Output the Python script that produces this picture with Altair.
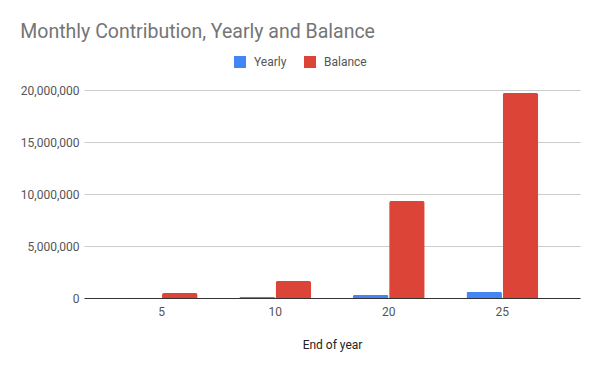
import altair as alt
import pandas as pd

years = ["5", "10", "20", "25"]
yearly = [20000, 130000, 290000, 590000]
balance = [480000, 1630000, 9330000, 19700000]
series = ["Yearly", "Balance"]

rows = []
for i, y in enumerate(years):
    rows.append({"year": y, "series": "Yearly", "value": yearly[i]})
    rows.append({"year": y, "series": "Balance", "value": balance[i]})
df = pd.DataFrame(rows)

font = "Roboto"

chart = alt.Chart(df).mark_bar(
    cornerRadiusTopLeft=2, cornerRadiusTopRight=2
).encode(
    x=alt.X("year:N", sort=years,
            scale=alt.Scale(paddingInner=0.368, paddingOuter=0.368),
            axis=alt.Axis(title="End of year", labelAngle=0, ticks=False,
                          domainColor="#333333", labelColor="#555555",
                          labelFontSize=12, labelPadding=8,
                          titleColor="#222222", titleFontSize=12,
                          titleFontWeight="normal", titlePadding=22,
                          labelFont=font, titleFont=font)),
    xOffset=alt.XOffset("series:N", sort=series,
                        scale=alt.Scale(paddingInner=0.02)),
    y=alt.Y("value:Q", scale=alt.Scale(domain=[0, 20000000]),
            axis=alt.Axis(title=None, values=[0, 5000000, 10000000, 15000000, 20000000],
                          format=",d", domain=False, ticks=False,
                          gridColor="#cccccc", labelColor="#555555",
                          labelFontSize=12, labelPadding=5, labelFont=font)),
    color=alt.Color("series:N", sort=series,
                    scale=alt.Scale(domain=series, range=["#4285F4", "#DB4437"]),
                    legend=alt.Legend(title=None, orient="none", direction="horizontal",
                                      legendX=150, legendY=-34,
                                      symbolType="square", symbolSize=144,
                                      symbolStrokeWidth=0, columnPadding=17,
                                      labelOffset=8,
                                      labelFontSize=12, labelColor="#555555",
                                      labelFont=font)),
).properties(
    width=496, height=208,
    title=alt.TitleParams("Monthly Contribution, Yearly and Balance",
                          anchor="start", dx=0, offset=14, fontSize=19.5,
                          fontWeight="normal", color="#757575", font=font),
    autosize=alt.AutoSizeParams(type="none"),
    padding={"left": 76, "top": 82, "right": 12, "bottom": 65},
).configure_view(stroke=None)

chart.save("out.html", embed_options={"renderer": "svg", "actions": False})
